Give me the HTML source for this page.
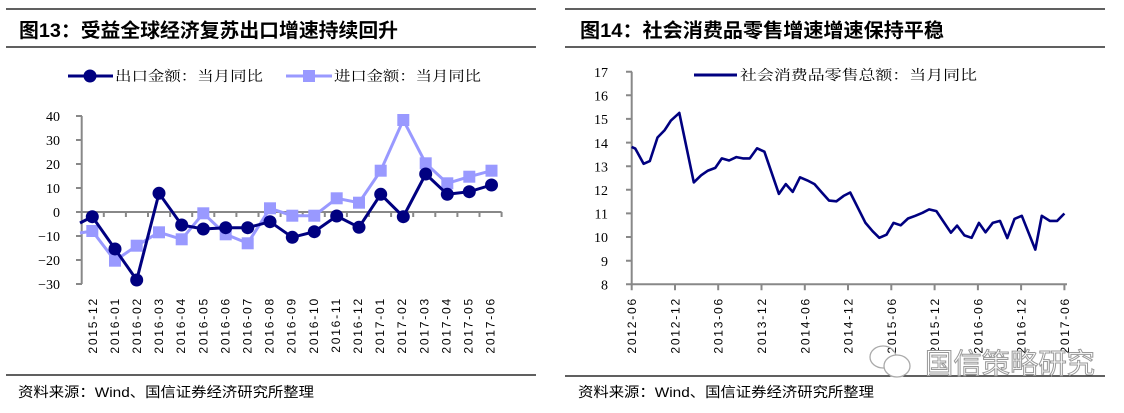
<!DOCTYPE html>
<html><head><meta charset="utf-8"><style>
html,body{margin:0;padding:0;background:#fff;}
svg{display:block;}
.t{font-family:"Liberation Sans","Noto Sans CJK SC",sans-serif;font-weight:bold;font-size:19.5px;fill:#000;}
.lg{font-family:"Liberation Serif","Noto Serif CJK SC","Noto Sans CJK SC",serif;font-size:14px;fill:#000;}
.yl{font-family:"Liberation Serif",serif;font-size:14px;fill:#000;}
.xl{font-family:"Liberation Sans",sans-serif;font-size:12px;letter-spacing:1.8px;fill:#000;}
.ft{font-family:"Liberation Sans","Noto Sans CJK SC",sans-serif;font-size:14px;fill:#000;}
</style></head><body>
<svg width="1124" height="413" viewBox="0 0 1124 413" xmlns="http://www.w3.org/2000/svg">
<!-- Panel lines -->
<g stroke="#000" stroke-width="1.3">
<line x1="6" y1="9" x2="536" y2="9"/><line x1="6" y1="47" x2="536" y2="47"/><line x1="6" y1="375" x2="536" y2="375"/>
<line x1="565" y1="9" x2="1105" y2="9"/><line x1="565" y1="47" x2="1105" y2="47"/><line x1="565" y1="376" x2="1105" y2="376"/>
</g>
<text class="t" x="19" y="37" textLength="379" lengthAdjust="spacingAndGlyphs">图13：受益全球经济复苏出口增速持续回升</text>
<text class="t" x="580" y="37" textLength="364" lengthAdjust="spacingAndGlyphs">图14：社会消费品零售增速增速保持平稳</text>
<text class="ft" x="18" y="397" textLength="296" lengthAdjust="spacingAndGlyphs">资料来源：Wind、国信证券经济研究所整理</text>
<text class="ft" x="578" y="397" textLength="296" lengthAdjust="spacingAndGlyphs">资料来源：Wind、国信证券经济研究所整理</text>

<!-- LEFT CHART -->
<line x1="68" y1="76" x2="113" y2="76" stroke="#000080" stroke-width="3"/><circle cx="90" cy="76" r="6.5" fill="#000080"/>
<text class="lg" x="115" y="81" textLength="148" lengthAdjust="spacingAndGlyphs">出口金额：当月同比</text>
<line x1="286" y1="76" x2="332" y2="76" stroke="#9999FF" stroke-width="3"/><rect x="303" y="70" width="12" height="12" fill="#9999FF"/>
<text class="lg" x="334" y="81" textLength="147" lengthAdjust="spacingAndGlyphs">进口金额：当月同比</text>
<g stroke="#888" stroke-width="2" fill="none">
<line x1="81.7" y1="116" x2="81.7" y2="284"/>
<line x1="81.7" y1="212" x2="501.6" y2="212"/>
<path d="M76 116H82M76 140H82M76 164H82M76 188H82M76 212H82M76 236H82M76 260H82M76 284H82"/>
<path d="M103.8 212v5M125.9 212v5M148 212v5M170.1 212v5M192.2 212v5M214.3 212v5M236.4 212v5M258.5 212v5M280.6 212v5M302.7 212v5M324.8 212v5M346.9 212v5M369 212v5M391.1 212v5M413.2 212v5M435.3 212v5M457.4 212v5M479.5 212v5M501.6 212v5"/>
</g>
<g class="yl" text-anchor="end">
<text x="60" y="121">40</text><text x="60" y="145">30</text><text x="60" y="169">20</text><text x="60" y="193">10</text><text x="60" y="217">0</text><text x="60" y="241">−10</text><text x="60" y="265">−20</text><text x="60" y="289">−30</text>
</g>
<g class="xl" text-anchor="end">
<text transform="translate(96.8,297) rotate(-90)">2015-12</text>
<text transform="translate(118.9,297) rotate(-90)">2016-01</text>
<text transform="translate(141,297) rotate(-90)">2016-02</text>
<text transform="translate(163.1,297) rotate(-90)">2016-03</text>
<text transform="translate(185.2,297) rotate(-90)">2016-04</text>
<text transform="translate(207.3,297) rotate(-90)">2016-05</text>
<text transform="translate(229.4,297) rotate(-90)">2016-06</text>
<text transform="translate(251.5,297) rotate(-90)">2016-07</text>
<text transform="translate(273.6,297) rotate(-90)">2016-08</text>
<text transform="translate(295.7,297) rotate(-90)">2016-09</text>
<text transform="translate(317.8,297) rotate(-90)">2016-10</text>
<text transform="translate(339.9,297) rotate(-90)">2016-11</text>
<text transform="translate(362,297) rotate(-90)">2016-12</text>
<text transform="translate(384.1,297) rotate(-90)">2017-01</text>
<text transform="translate(406.2,297) rotate(-90)">2017-02</text>
<text transform="translate(428.3,297) rotate(-90)">2017-03</text>
<text transform="translate(450.4,297) rotate(-90)">2017-04</text>
<text transform="translate(472.5,297) rotate(-90)">2017-05</text>
<text transform="translate(494.6,297) rotate(-90)">2017-06</text>
</g>
<!-- import -->
<polyline fill="none" stroke="#9999FF" stroke-width="3" points="80,233 92.3,231 115,260.7 136.7,245.7 159,232.3 181.7,239.3 203.3,213.3 225.7,234.3 247.7,243.3 270,208.3 292.3,215.7 314.3,215.7 336.7,198.3 359,202.7 380.7,170.7 403.3,120 425.7,163.3 447.3,183.3 469.3,176.7 491.5,170.7"/>
<g fill="#9999FF">
<rect x="86.3" y="225" width="12" height="12"/><rect x="109" y="254.7" width="12" height="12"/><rect x="130.7" y="239.7" width="12" height="12"/><rect x="153" y="226.3" width="12" height="12"/><rect x="175.7" y="233.3" width="12" height="12"/><rect x="197.3" y="207.3" width="12" height="12"/><rect x="219.7" y="228.3" width="12" height="12"/><rect x="241.7" y="237.3" width="12" height="12"/><rect x="264" y="202.3" width="12" height="12"/><rect x="286.3" y="209.7" width="12" height="12"/><rect x="308.3" y="209.7" width="12" height="12"/><rect x="330.7" y="192.3" width="12" height="12"/><rect x="353" y="196.7" width="12" height="12"/><rect x="374.7" y="164.7" width="12" height="12"/><rect x="397.3" y="114" width="12" height="12"/><rect x="419.7" y="157.3" width="12" height="12"/><rect x="441.3" y="177.3" width="12" height="12"/><rect x="463.3" y="170.7" width="12" height="12"/><rect x="485.5" y="164.7" width="12" height="12"/>
</g>
<!-- export -->
<polyline fill="none" stroke="#000080" stroke-width="3" points="80,223 92.3,216.7 115,249 136.7,280 159,193.3 181.7,225 203.3,229 225.7,227.7 247.7,227.7 270,221.7 292.3,237.3 314.3,231.7 336.7,216 359,227.3 380.7,194.3 403.3,216.7 425.7,174 447.3,194.3 469.3,191.7 491.5,185"/>
<g fill="#000080">
<circle cx="92.3" cy="216.7" r="6.5"/><circle cx="115" cy="249" r="6.5"/><circle cx="136.7" cy="280" r="6.5"/><circle cx="159" cy="193.3" r="6.5"/><circle cx="181.7" cy="225" r="6.5"/><circle cx="203.3" cy="229" r="6.5"/><circle cx="225.7" cy="227.7" r="6.5"/><circle cx="247.7" cy="227.7" r="6.5"/><circle cx="270" cy="221.7" r="6.5"/><circle cx="292.3" cy="237.3" r="6.5"/><circle cx="314.3" cy="231.7" r="6.5"/><circle cx="336.7" cy="216" r="6.5"/><circle cx="359" cy="227.3" r="6.5"/><circle cx="380.7" cy="194.3" r="6.5"/><circle cx="403.3" cy="216.7" r="6.5"/><circle cx="425.7" cy="174" r="6.5"/><circle cx="447.3" cy="194.3" r="6.5"/><circle cx="469.3" cy="191.7" r="6.5"/><circle cx="491.5" cy="185" r="6.5"/>
</g>

<!-- RIGHT CHART -->
<line x1="694" y1="75" x2="737" y2="75" stroke="#000080" stroke-width="3"/>
<text class="lg" x="740" y="80" textLength="237" lengthAdjust="spacingAndGlyphs">社会消费品零售总额：当月同比</text>
<g stroke="#888" stroke-width="2" fill="none">
<line x1="631.7" y1="71.7" x2="631.7" y2="284.3"/>
<line x1="631.7" y1="284.3" x2="1067" y2="284.3"/>
<path d="M626 71.7h6M626 95.3h6M626 118.9h6M626 142.6h6M626 166.2h6M626 189.8h6M626 213.4h6M626 237h6M626 260.7h6M626 284.3h6"/>
<path d="M631.7 284.3v6M675 284.3v6M718.2 284.3v6M761.5 284.3v6M804.8 284.3v6M848 284.3v6M891.3 284.3v6M934.6 284.3v6M977.9 284.3v6M1021.1 284.3v6M1064.4 284.3v6"/>
</g>
<g class="yl" text-anchor="end">
<text x="608" y="77">17</text><text x="608" y="100.5">16</text><text x="608" y="124">15</text><text x="608" y="148">14</text><text x="608" y="171.5">13</text><text x="608" y="195">12</text><text x="608" y="218.5">11</text><text x="608" y="242">10</text><text x="608" y="266">9</text><text x="608" y="289.5">8</text>
</g>
<g class="xl" text-anchor="end">
<text transform="translate(636.2,297) rotate(-90)">2012-06</text>
<text transform="translate(679.5,297) rotate(-90)">2012-12</text>
<text transform="translate(722.7,297) rotate(-90)">2013-06</text>
<text transform="translate(766,297) rotate(-90)">2013-12</text>
<text transform="translate(809.3,297) rotate(-90)">2014-06</text>
<text transform="translate(852.5,297) rotate(-90)">2014-12</text>
<text transform="translate(895.8,297) rotate(-90)">2015-06</text>
<text transform="translate(939.1,297) rotate(-90)">2015-12</text>
<text transform="translate(982.4,297) rotate(-90)">2016-06</text>
<text transform="translate(1025.6,297) rotate(-90)">2016-12</text>
<text transform="translate(1068.9,297) rotate(-90)">2017-06</text>
</g>
<polyline fill="none" stroke="#000080" stroke-width="2.6" stroke-linejoin="round" points="631.6,146.9 635.3,148.6 643.6,163.8 649.8,161.1 657.5,137.5 664.7,130.1 670.9,120.6 679.3,112.9 693.8,182.4 701.1,175.3 708,170.6 715.3,167.9 721.8,158.4 729.1,160.5 736.4,157.1 742.9,158.4 749.8,158.4 757.1,148.3 764.4,151.7 778.9,193.9 785.8,184.1 792.7,191.9 800,177.3 807.3,180.4 814.5,184.1 821.8,192.5 829.1,200.6 836.4,201.3 843.6,195.9 850.2,192.5 865.5,222.9 872.7,231.3 879.3,237.8 886.5,234.7 893.5,222.9 900.7,225.3 908,218.5 915.3,215.8 922.5,212.8 929.1,209.4 936.4,211.1 950.9,232.7 957.1,225.6 964.4,235.4 971.6,237.8 978.9,222.9 985.5,232.3 992.7,222.9 1000,220.9 1007.3,238.1 1014.5,218.9 1021.8,215.8 1035.3,249.6 1041.8,215.8 1049.8,220.9 1057.1,220.9 1064.4,213.5"/>
<!-- watermark -->
<g fill="none" stroke="#aaa" stroke-width="1.3">
<ellipse cx="883" cy="357" rx="13" ry="11"/>
<ellipse cx="897" cy="366" rx="13" ry="11" fill="#fff"/>
</g>
<text x="925" y="373" font-family="'Noto Sans CJK SC',sans-serif" font-size="28" fill="#fff" stroke="#999" stroke-width="1" textLength="170" lengthAdjust="spacingAndGlyphs">国信策略研究</text>
</svg>
</body></html>
